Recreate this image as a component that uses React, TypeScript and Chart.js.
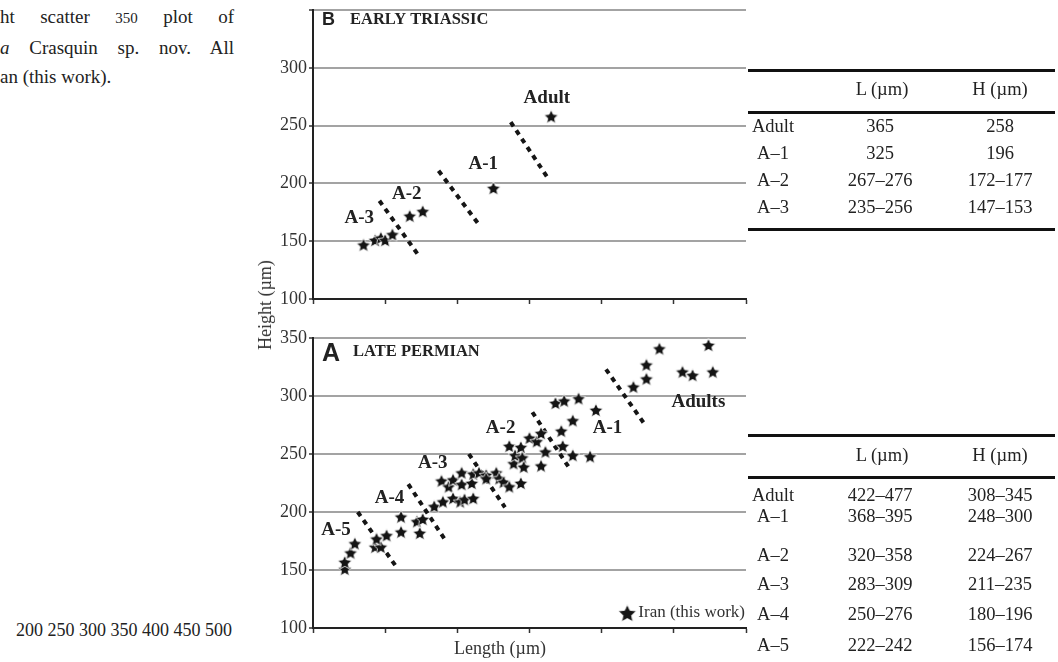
import React, { useEffect, useRef } from 'react';
import { Chart, registerables } from 'chart.js';

Chart.register(...registerables);

// ---------- shared axis values ----------
const xMin = 200;
const xMax = 500;
const yMin = 100;
const yMax = 350;
const tickStep = 50;
const strayXTickLabels = ['200', '250', '300', '350', '400', '450', '500'];

// ---------- Panel B : Early Triassic ----------
const triassicLength = [235, 243, 247, 250, 255, 267, 276, 325, 365];
const triassicHeight = [147, 151, 153, 151, 156, 172, 176, 196, 258];
// dividers: [x1, y1, x2, y2]
const triassicDividers = [
  [246, 185, 273, 138],
  [287, 211, 314, 166],
  [337, 253, 362, 206],
];
const triassicStageLabels = ['A-3', 'A-2', 'A-1', 'Adult'];
const triassicStageX = [232, 265, 318, 362];
const triassicStageY = [170, 191, 217, 274];

// ---------- Panel A : Late Permian ----------
const permianLength = [
  222, 222, 226, 229, 243, 247, 244, 251, 261, 261, 272, 276, 274, 284, 289, 294,
  290, 297, 297, 303, 303, 302, 305, 310, 311, 311, 315, 320, 320, 327, 329, 332,
  336, 336, 339, 340, 344, 345, 344, 346, 350, 355, 358, 358, 361, 368, 374, 372,
  373, 380, 380, 384, 392, 396, 422, 431, 431, 440, 456, 463, 474, 477,
];
const permianHeight = [
  151, 157, 165, 173, 170, 170, 177, 180, 196, 183, 192, 194, 182, 205, 227, 222,
  209, 228, 212, 234, 224, 209, 211, 225, 233, 212, 234, 232, 229, 234, 229, 226,
  222, 257, 242, 249, 256, 247, 225, 239, 264, 261, 268, 240, 252, 294, 296, 270,
  257, 279, 249, 298, 248, 288, 308, 315, 327, 341, 321, 318, 344, 321,
];
const permianDividers = [
  [231, 200, 257, 154],
  [266, 224, 291, 177],
  [308, 250, 333, 204],
  [352, 286, 377, 239],
  [403, 323, 429, 277],
];
const permianStageLabels = ['A-5', 'A-4', 'A-3', 'A-2', 'A-1', 'Adults'];
const permianStageX = [216, 253, 283, 330, 404, 467];
const permianStageY = [184, 212, 242, 272, 272, 295];

// ---------- tables ----------
const tableHeaders = ['L (µm)', 'H (µm)'];
const triassicTableStages = ['Adult', 'A–1', 'A–2', 'A–3'];
const triassicTableL = ['365', '325', '267–276', '235–256'];
const triassicTableH = ['258', '196', '172–177', '147–153'];
const permianTableStages = ['Adult', 'A–1', 'A–2', 'A–3', 'A–4', 'A–5'];
const permianTableL = ['422–477', '368–395', '320–358', '283–309', '250–276', '222–242'];
const permianTableH = ['308–345', '248–300', '224–267', '211–235', '180–196', '156–174'];

const legendText = 'Iran (this work)';

const SERIF = '"Liberation Serif", "Times New Roman", serif';
const SANS = '"Liberation Sans", Arial, sans-serif';

function makeStar(size: number): HTMLCanvasElement {
  const c = document.createElement('canvas');
  c.width = size;
  c.height = size;
  const ctx = c.getContext('2d')!;
  const cx = size / 2;
  const cy = size / 2 + size * 0.05;
  const R = size / 2 - 0.6;
  const r = R * 0.48;
  ctx.beginPath();
  for (let i = 0; i < 10; i++) {
    const ang = -Math.PI / 2 + (i * Math.PI) / 5;
    const rad = i % 2 === 0 ? R : r;
    ctx.lineTo(cx + rad * Math.cos(ang), cy + rad * Math.sin(ang));
  }
  ctx.closePath();
  ctx.fillStyle = '#141414';
  ctx.fill();
  ctx.strokeStyle = '#ffffff';
  ctx.lineWidth = 0.8;
  ctx.stroke();
  return c;
}

type PanelCfg = {
  lengths: number[];
  heights: number[];
  dividers: number[][];
  stageLabels: string[];
  stageX: number[];
  stageY: number[];
  letter: string;
  letterSize: number;
  letterDy: number;
  title: string;
  titleGap: number;
  hideTopLabel: boolean;
  legend: boolean;
  padTop: number;
  xAxisHeight: number;
};

function overlayPlugin(cfg: PanelCfg, legendStar: HTMLCanvasElement) {
  return {
    id: 'overlay' + cfg.letter,
    afterDatasetsDraw(chart: any) {
      const { ctx, chartArea, scales } = chart;
      ctx.save();
      ctx.fillStyle = '#222';
      ctx.textBaseline = 'middle';
      ctx.textAlign = 'center';
      ctx.font = `bold 19px ${SERIF}`;
      cfg.stageLabels.forEach((t, i) => {
        ctx.fillText(t, scales.x.getPixelForValue(cfg.stageX[i]), scales.y.getPixelForValue(cfg.stageY[i]));
      });
      ctx.textAlign = 'left';
      ctx.font = `bold ${cfg.letterSize}px ${SANS}`;
      const lx = chartArea.left + 9;
      const ly = chartArea.top + cfg.letterDy;
      ctx.fillText(cfg.letter, lx, ly);
      const lw = ctx.measureText(cfg.letter).width;
      ctx.font = `bold 16.5px ${SERIF}`;
      ctx.fillText(cfg.title, lx + lw + cfg.titleGap, chartArea.top + 10 + (cfg.letterDy - 10) * 0.6);
      if (cfg.legend) {
        ctx.font = `17px ${SERIF}`;
        ctx.fillStyle = '#333';
        ctx.textAlign = 'right';
        const ty = chartArea.bottom - 15;
        ctx.fillText(legendText, chartArea.right - 1, ty);
        const tw = ctx.measureText(legendText).width;
        const sx = chartArea.right - 1 - tw - 11;
        ctx.drawImage(legendStar, sx - legendStar.width / 2, ty - legendStar.height / 2);
      }
      ctx.restore();
    },
  };
}

function Panel({ cfg, left, top, width, height }: { cfg: PanelCfg; left: number; top: number; width: number; height: number }) {
  const ref = useRef<HTMLCanvasElement | null>(null);
  useEffect(() => {
    if (!ref.current) return;
    const star = makeStar(16);
    const legendStar = makeStar(20);
    const datasets: any[] = [
      {
        label: 'stars',
        data: cfg.lengths.map((x, i) => ({ x, y: cfg.heights[i] })),
        pointStyle: star,
        pointRadius: 8,
        showLine: false,
      },
      ...cfg.dividers.map((d, i) => ({
        label: 'divider' + i,
        data: [
          { x: d[0], y: d[1] },
          { x: d[2], y: d[3] },
        ],
        showLine: true,
        borderColor: '#151515',
        borderWidth: 4,
        borderDash: [5, 5],
        pointRadius: 0,
        fill: false,
      })),
    ];
    const chart = new Chart(ref.current, {
      type: 'scatter',
      data: { datasets },
      plugins: [overlayPlugin(cfg, legendStar)],
      options: {
        animation: false,
        responsive: false,
        devicePixelRatio: 1,
        layout: { padding: { top: cfg.padTop, right: 14, bottom: 0, left: 0 } },
        plugins: { legend: { display: false }, tooltip: { enabled: false }, title: { display: false } },
        scales: {
          x: {
            type: 'linear',
            min: xMin,
            max: xMax,
            ticks: { stepSize: tickStep, display: false },
            grid: { drawOnChartArea: false, drawTicks: true, tickLength: 5, tickColor: '#333', tickWidth: 1.5 },
            border: { color: '#222', width: 2 },
            afterFit: (axis: any) => {
              axis.height = cfg.xAxisHeight;
              axis.paddingLeft = 0;
              axis.paddingRight = 0;
            },
          },
          y: {
            type: 'linear',
            min: yMin,
            max: yMax,
            ticks: {
              stepSize: tickStep,
              padding: 2,
              color: '#333',
              font: { family: SERIF, size: 18 },
              callback: (v: any) => (cfg.hideTopLabel && v === yMax ? '' : String(v)),
            },
            grid: {
              color: (c: any) => (c.tick && c.tick.value === yMin ? 'rgba(0,0,0,0)' : '#a3a3a3'),
              lineWidth: 2,
              tickLength: 4,
              tickColor: '#333',
              tickWidth: 1.5,
            },
            border: { color: '#222', width: 2 },
            afterFit: (axis: any) => {
              axis.width = 73;
              axis.paddingTop = 0;
              axis.paddingBottom = 0;
            },
          },
        },
      } as any,
    });
    return () => chart.destroy();
  }, []);
  return (
    <canvas
      ref={ref}
      width={width}
      height={height}
      style={{ position: 'absolute', left, top, width, height }}
    />
  );
}

const triassicCfg: PanelCfg = {
  lengths: triassicLength,
  heights: triassicHeight,
  dividers: triassicDividers,
  stageLabels: triassicStageLabels,
  stageX: triassicStageX,
  stageY: triassicStageY,
  letter: 'B',
  letterSize: 18,
  letterDy: 10,
  title: 'EARLY TRIASSIC',
  titleGap: 15,
  hideTopLabel: true,
  legend: false,
  padTop: 10,
  xAxisHeight: 11,
};

const permianCfg: PanelCfg = {
  lengths: permianLength,
  heights: permianHeight,
  dividers: permianDividers,
  stageLabels: permianStageLabels,
  stageX: permianStageX,
  stageY: permianStageY,
  letter: 'A',
  letterSize: 25,
  letterDy: 16,
  title: 'LATE PERMIAN',
  titleGap: 13,
  hideTopLabel: false,
  legend: true,
  padTop: 18,
  xAxisHeight: 34,
};

const textStyle: React.CSSProperties = {
  position: 'absolute',
  fontFamily: SERIF,
  fontSize: 18,
  color: '#222',
  whiteSpace: 'nowrap',
  lineHeight: '22px',
};

function Cell({ x, y, text }: { x: number; y: number; text: string }) {
  return <div style={{ ...textStyle, fontSize: 18.5, left: x, top: y - 11, transform: 'translateX(-50%)' }}>{text}</div>;
}

function Rule({ y }: { y: number }) {
  return <div style={{ position: 'absolute', left: 748, width: 307, top: y - 1.5, height: 3, background: '#111' }} />;
}

function StatTable({ rules, headerY, rowY, stages, lens, hts }: { rules: number[]; headerY: number; rowY: number[]; stages: string[]; lens: string[]; hts: string[] }) {
  const cols = [773, 880, 1000];
  return (
    <>
      {rules.map((y, i) => (
        <Rule key={'r' + i} y={y} />
      ))}
      <Cell x={cols[1] + 2} y={headerY} text={tableHeaders[0]} />
      <Cell x={cols[2]} y={headerY} text={tableHeaders[1]} />
      {stages.map((s, i) => (
        <React.Fragment key={s}>
          <Cell x={cols[0]} y={rowY[i]} text={s} />
          <Cell x={cols[1]} y={rowY[i]} text={lens[i]} />
          <Cell x={cols[2]} y={rowY[i]} text={hts[i]} />
        </React.Fragment>
      ))}
    </>
  );
}

export default function App() {
  return (
    <div style={{ position: 'absolute', left: 0, top: 0, width: 1058, height: 662, overflow: 'hidden', background: '#fff' }}>
      {/* stray caption text */}
      <div style={{ position: 'absolute', left: 0, top: 2, width: 234, fontFamily: SERIF, fontSize: 19, color: '#222', lineHeight: '29px' }}>
        <div style={{ textAlign: 'justify', textAlignLast: 'justify' as any }}>
          ht scatter <span style={{ fontSize: 15 }}>350</span> plot of
        </div>
        <div style={{ textAlign: 'justify', textAlignLast: 'justify' as any }}>
          <i>a</i> Crasquin sp. nov. All
        </div>
        <div>an (this work).</div>
      </div>
      <div style={{ ...textStyle, left: 0, width: 232, top: 619, textAlign: 'right' }}>{strayXTickLabels.join(' ')}</div>

      <Panel cfg={triassicCfg} left={240} top={0} width={520} height={310} />
      <Panel cfg={permianCfg} left={240} top={320} width={520} height={342} />

      <div
        style={{
          ...textStyle,
          left: 265,
          top: 305,
          transform: 'translate(-50%, -50%) rotate(-90deg)',
          color: '#333',
        }}
      >
        Height (µm)
      </div>
      <div style={{ ...textStyle, left: 500, top: 637, transform: 'translateX(-50%)', color: '#333' }}>Length (µm)</div>

      <StatTable
        rules={[70, 112, 229]}
        headerY={89}
        rowY={[126, 153, 180, 207]}
        stages={triassicTableStages}
        lens={triassicTableL}
        hts={triassicTableH}
      />
      <StatTable
        rules={[435, 477]}
        headerY={455}
        rowY={[495, 516, 555, 584, 614, 645]}
        stages={permianTableStages}
        lens={permianTableL}
        hts={permianTableH}
      />
    </div>
  );
}
